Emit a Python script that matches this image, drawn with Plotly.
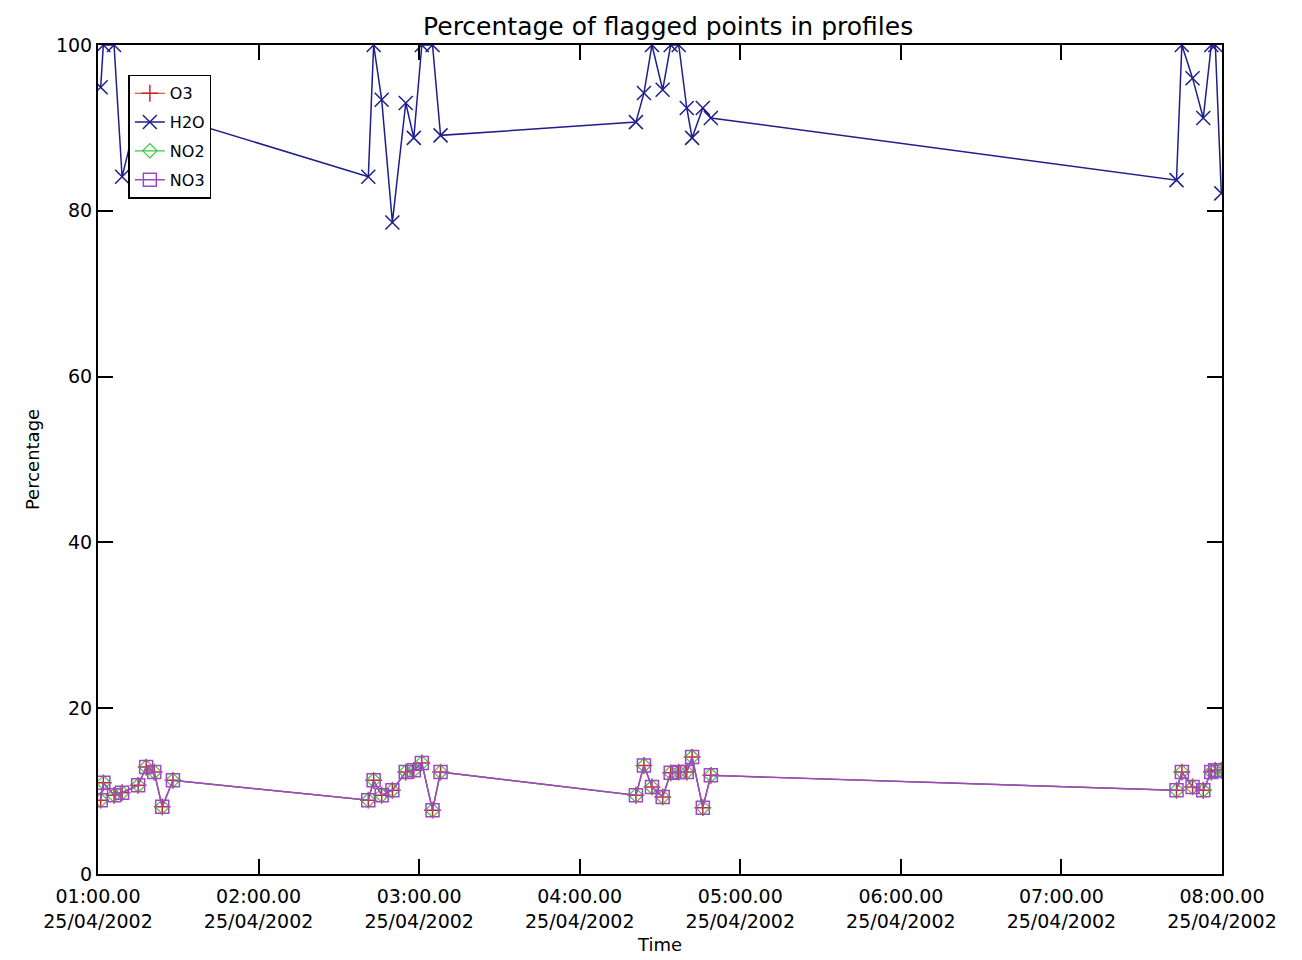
import plotly.graph_objects as go

# ---- data ----
times = [
    "2002-04-25 01:01:00", "2002-04-25 01:02:00", "2002-04-25 01:06:00", "2002-04-25 01:09:00",
    "2002-04-25 01:15:00", "2002-04-25 01:18:00", "2002-04-25 01:21:00", "2002-04-25 01:24:00",
    "2002-04-25 01:28:00",
    "2002-04-25 02:41:00", "2002-04-25 02:43:00", "2002-04-25 02:46:00", "2002-04-25 02:50:00",
    "2002-04-25 02:55:00", "2002-04-25 02:58:00", "2002-04-25 03:01:00", "2002-04-25 03:05:00",
    "2002-04-25 03:08:00",
    "2002-04-25 04:21:00", "2002-04-25 04:24:00", "2002-04-25 04:27:00", "2002-04-25 04:31:00",
    "2002-04-25 04:34:00", "2002-04-25 04:37:00", "2002-04-25 04:40:00", "2002-04-25 04:42:00",
    "2002-04-25 04:46:00", "2002-04-25 04:49:00",
    "2002-04-25 07:43:00", "2002-04-25 07:45:00", "2002-04-25 07:49:00", "2002-04-25 07:53:00",
    "2002-04-25 07:56:00", "2002-04-25 07:57:30", "2002-04-25 07:59:45",
]

h2o = [
    94.9, 100.0, 100.0, 84.1, 92.0, 93.0, 95.0, 95.0, 91.3,
    84.1, 100.0, 93.4, 78.6, 93.0, 88.8, 100.0, 100.0, 89.1,
    90.7, 94.2, 100.0, 94.6, 100.0, 100.0, 92.4, 88.8, 92.4, 91.2,
    83.7, 100.0, 96.0, 91.2, 100.0, 100.0, 82.1,
]

no3 = [
    8.9, 11.0, 9.5, 9.8, 10.7, 12.9, 12.3, 8.1, 11.3,
    8.9, 11.3, 9.5, 10.1, 12.3, 12.5, 13.4, 7.7, 12.3,
    9.5, 13.1, 10.5, 9.3, 12.2, 12.3, 12.3, 14.1, 8.0, 11.9,
    10.1, 12.3, 10.5, 10.1, 12.3, 12.5, 12.5,
]
o3 = list(no3)
no2 = list(no3)

tick_vals = ["2002-04-25 0%d:00:00" % h for h in range(1, 9)]
tick_text = ["0%d:00.00<br>25/04/2002" % h for h in range(1, 9)]
y_ticks = [0, 20, 40, 60, 80, 100]

FONT = "DejaVu Sans"

fig = go.Figure()
fig.add_trace(go.Scatter(
    x=times, y=o3, name="O3", mode="lines+markers", legendgroup="o3",
    line=dict(color="rgb(200,40,40)", width=1.2),
    marker=dict(symbol="cross-thin-open", size=12, line=dict(color="rgb(200,40,40)", width=1.5)),
))
fig.add_trace(go.Scatter(
    x=times, y=h2o, name="H2O", mode="lines+markers", legendgroup="h2o",
    line=dict(color="rgb(30,30,140)", width=1.5),
    marker=dict(symbol="x-thin-open", size=14, line=dict(color="rgb(30,30,140)", width=1.5)),
))
fig.add_trace(go.Scatter(
    x=times, y=no2, name="NO2", mode="lines+markers", legendgroup="no2",
    line=dict(color="rgb(60,200,60)", width=1.2),
    marker=dict(symbol="diamond-open", size=11, line=dict(color="rgb(60,200,60)", width=1.2)),
))
fig.add_trace(go.Scatter(
    x=times, y=no3, name="NO3", mode="lines+markers", legendgroup="no3",
    line=dict(color="rgb(160,70,200)", width=1.5),
    marker=dict(symbol="square-open", size=13, line=dict(color="rgb(120,60,140)", width=1.5)),
))

fig.update_layout(
    width=1302, height=960,
    margin=dict(l=90, r=88, t=37, b=94),
    paper_bgcolor="white", plot_bgcolor="white",
    font=dict(family=FONT, color="black", size=16),
    title=dict(text="Percentage of flagged points in profiles", x=0.507, xanchor="center",
               y=0.981, yanchor="middle", font=dict(size=25, family=FONT)),
    showlegend=True,
    legend=dict(x=0.027, y=0.964, xanchor="left", yanchor="top",
                bgcolor="white", bordercolor="black", borderwidth=1.5,
                font=dict(size=16, family=FONT), itemwidth=30,
                tracegroupgap=5),
)
fig.update_xaxes(
    range=["2002-04-25 01:00:00", "2002-04-25 08:00:00"],
    tickmode="array", tickvals=tick_vals, ticktext=tick_text,
    ticks="inside", ticklen=15, tickwidth=1.5, tickcolor="black",
    showline=True, linecolor="black", linewidth=2, mirror="ticks",
    showgrid=False, zeroline=False, ticklabelstandoff=4,
    tickfont=dict(size=19, family=FONT),
    title=dict(text="Time", font=dict(size=18, family=FONT), standoff=8),
)
fig.update_yaxes(
    range=[0, 100],
    tickmode="array", tickvals=y_ticks,
    ticks="inside", ticklen=15, tickwidth=1.5, tickcolor="black",
    showline=True, linecolor="black", linewidth=2, mirror="ticks",
    showgrid=False, zeroline=False,
    tickfont=dict(size=19, family=FONT),
    title=dict(text="Percentage", font=dict(size=18, family=FONT), standoff=12),
)

fig.write_html("out.html")
